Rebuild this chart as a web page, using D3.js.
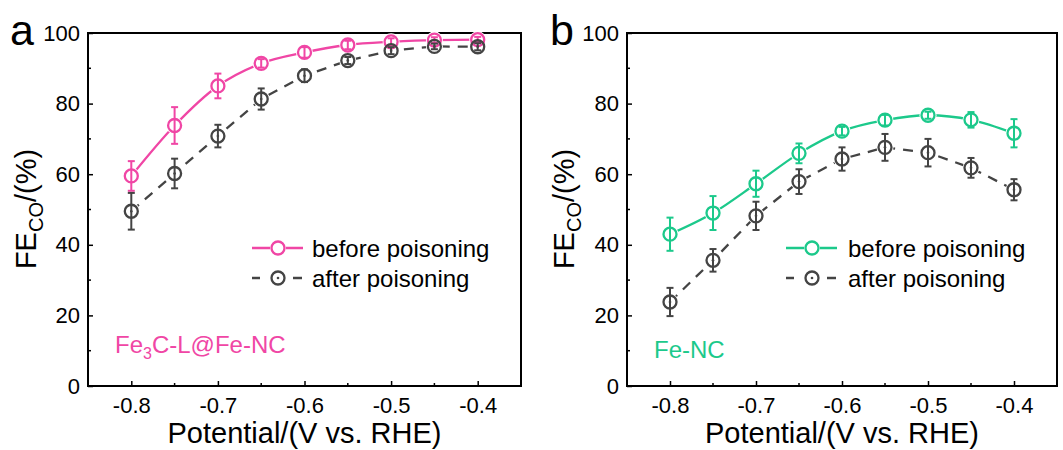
<!DOCTYPE html>
<html>
<head>
<meta charset="utf-8">
<script src="https://d3js.org/d3.v7.min.js"></script>
<style>
  body { margin: 0; background: #fff; }
  svg text { font-family: "Liberation Sans", Arial, sans-serif; }
</style>
</head>
<body>
<script>
const width = 1063
const height = 450

const potential = [-0.8, -0.75, -0.7, -0.65, -0.6, -0.55, -0.5, -0.45, -0.4]
const xTicks = [-0.8, -0.7, -0.6, -0.5, -0.4]
const yTicks = [0, 20, 40, 60, 80, 100]

// panel a: Fe3C-L@Fe-NC
const aBefore = [59.5, 73.8, 85.0, 91.4, 94.5, 96.6, 97.5, 98.0, 98.1]
const aBeforeErr = [4.2, 5.2, 3.5, 1.2, 1.5, 1.2, 1.0, 0.8, 0.8]
const aAfter = [49.5, 60.2, 70.8, 81.3, 87.9, 92.2, 95.0, 96.2, 96.1]
const aAfterErr = [5.2, 4.2, 3.2, 3.0, 1.8, 1.0, 1.0, 0.8, 1.0]

// panel b: Fe-NC
const bBefore = [43.0, 49.0, 57.3, 65.9, 72.2, 75.3, 76.7, 75.4, 71.6]
const bBeforeErr = [4.7, 4.8, 3.7, 2.8, 1.2, 1.5, 1.0, 2.2, 4.0]
const bAfter = [23.8, 35.6, 48.2, 57.9, 64.3, 67.6, 66.1, 61.8, 55.6]
const bAfterErr = [4.0, 3.2, 4.0, 3.5, 3.3, 3.8, 3.9, 2.8, 3.0]

const seriesLabels = ["before poisoning", "after poisoning"]
const grey = "#444444"

const svg = d3.select("body").append("svg")
    .attr("width", width).attr("height", height)

function drawPanel(opt) {
    const x = d3.scaleLinear().domain([-0.85, -0.35]).range([opt.left, opt.right])
    const y = d3.scaleLinear().domain([0, 100]).range([386, 33])
    const g = svg.append("g")

    // minor ticks
    const xMinor = d3.range(-0.85, -0.349, 0.05).filter(v => Math.abs(Math.round(v * 10) - v * 10) > 0.01)
    g.selectAll(".xminor").data(xMinor).enter().append("line")
        .attr("x1", d => x(d)).attr("x2", d => x(d))
        .attr("y1", 386).attr("y2", 383)
        .attr("stroke", "black").attr("stroke-width", 1.5)
    g.selectAll(".yminor").data([10, 30, 50, 70, 90]).enter().append("line")
        .attr("x1", opt.left).attr("x2", opt.left + 3)
        .attr("y1", d => y(d)).attr("y2", d => y(d))
        .attr("stroke", "black").attr("stroke-width", 1.5)

    const xAxis = g.append("g").attr("transform", "translate(0,386)")
        .call(d3.axisBottom(x).tickValues(xTicks).tickSizeInner(-5).tickSizeOuter(0)
            .tickFormat(d => d3.format(".1f")(d).replace("−", "-")))
    xAxis.selectAll("text").attr("y", 11).attr("dy", "0.71em")
        .style("font-size", "22px").attr("fill", "black")
    const yAxis = g.append("g").attr("transform", `translate(${opt.left},0)`)
        .call(d3.axisLeft(y).tickValues(yTicks).tickSizeInner(-5).tickSizeOuter(0))
    yAxis.selectAll("text").attr("x", -8)
        .style("font-size", "22px").attr("fill", "black")
    g.selectAll(".domain").remove()
    g.selectAll(".tick line").attr("stroke-width", 1.5)

    // frame
    g.append("rect").attr("x", opt.left).attr("y", 33)
        .attr("width", opt.right - opt.left).attr("height", 353)
        .attr("fill", "none").attr("stroke", "black").attr("stroke-width", 2)

    const series = [
        { vals: opt.before, errs: opt.beforeErr, color: opt.color, dash: null, dot: false, curve: d3.curveMonotoneX },
        { vals: opt.after, errs: opt.afterErr, color: grey, dash: "10,8", dot: true, curve: d3.curveLinear }
    ]
    const r = 6.5

    series.forEach(s => {
        const line = d3.line().x((d, i) => x(potential[i])).y(d => y(d)).curve(s.curve)
        g.append("path").datum(s.vals).attr("d", line)
            .attr("fill", "none").attr("stroke", s.color).attr("stroke-width", 2.3)
            .attr("stroke-dasharray", s.dash)
    })
    series.forEach(s => {
        // gap around symbols
        g.append("g").selectAll("circle").data(s.vals).enter().append("circle")
            .attr("cx", (d, i) => x(potential[i])).attr("cy", d => y(d))
            .attr("r", r + 2).attr("fill", "white")
    })
    series.forEach(s => {
        const eb = g.append("g").attr("stroke", s.color).attr("stroke-width", 2)
        s.vals.forEach((v, i) => {
            const cx = x(potential[i]), e = s.errs[i]
            eb.append("line").attr("x1", cx).attr("x2", cx).attr("y1", y(v - e)).attr("y2", y(v + e))
            eb.append("line").attr("x1", cx - 3.5).attr("x2", cx + 3.5).attr("y1", y(v - e)).attr("y2", y(v - e))
            eb.append("line").attr("x1", cx - 3.5).attr("x2", cx + 3.5).attr("y1", y(v + e)).attr("y2", y(v + e))
        })
        g.append("g").selectAll("circle").data(s.vals).enter().append("circle")
            .attr("cx", (d, i) => x(potential[i])).attr("cy", d => y(d))
            .attr("r", r).attr("fill", "none").attr("stroke", s.color).attr("stroke-width", 2.3)
        if (s.dot) {
            g.append("g").selectAll("circle").data(s.vals).enter().append("circle")
                .attr("cx", (d, i) => x(potential[i])).attr("cy", d => y(d))
                .attr("r", 1.3).attr("fill", s.color)
        }
    })

    // legend
    const lg = g.append("g")
    const lx = opt.legendX, lt = opt.legendTextX
    lg.append("line").attr("x1", lx).attr("x2", lx + 51).attr("y1", 248).attr("y2", 248)
        .attr("stroke", opt.color).attr("stroke-width", 2.5)
    lg.append("circle").attr("cx", lx + 26).attr("cy", 248).attr("r", r + 1.5)
        .attr("fill", "white").attr("stroke", "none")
    lg.append("circle").attr("cx", lx + 26).attr("cy", 248).attr("r", r)
        .attr("fill", "white").attr("stroke", opt.color).attr("stroke-width", 2.3)
    lg.append("line").attr("x1", lx).attr("x2", lx + 8).attr("y1", 278).attr("y2", 278)
        .attr("stroke", grey).attr("stroke-width", 2.5)
    lg.append("line").attr("x1", lx + 41).attr("x2", lx + 50).attr("y1", 278).attr("y2", 278)
        .attr("stroke", grey).attr("stroke-width", 2.5)
    lg.append("circle").attr("cx", lx + 26).attr("cy", 278).attr("r", r)
        .attr("fill", "white").attr("stroke", grey).attr("stroke-width", 2.3)
    lg.append("circle").attr("cx", lx + 26).attr("cy", 278).attr("r", 1.3).attr("fill", grey)
    lg.selectAll("text").data(seriesLabels).enter().append("text")
        .attr("x", lt).attr("y", (d, i) => 257 + i * 30)
        .style("font-size", "24px").attr("fill", "black").text(d => d)

    // sample name
    const nm = g.append("text").attr("x", opt.nameX).attr("y", opt.nameY)
        .style("font-size", "24px").attr("fill", opt.color)
    opt.name.forEach(p => {
        const t = nm.append("tspan").text(p.t)
        if (p.sub) t.style("font-size", "16px").attr("dy", 6)
        else if (p.after) t.attr("dy", -6)
    })

    // axis titles
    g.append("text").attr("x", (opt.left + opt.right) / 2).attr("y", 443)
        .attr("text-anchor", "middle").style("font-size", "29px").attr("fill", "black")
        .text("Potential/(V vs. RHE)")
    const yt = g.append("text")
        .attr("transform", `translate(${opt.yTitleX},209) rotate(-90)`)
        .attr("text-anchor", "middle").style("font-size", "29px").attr("fill", "black")
    yt.append("tspan").text("FE")
    yt.append("tspan").text("CO").style("font-size", "20px").attr("dy", 7)
    yt.append("tspan").text("/(%)").attr("dy", -7)

    // panel letter
    g.append("text").attr("x", opt.letterX).attr("y", 45)
        .style("font-size", "43px").attr("fill", "black").text(opt.letter)
}

drawPanel({
    left: 88, right: 521, color: "#F046A5",
    before: aBefore, beforeErr: aBeforeErr, after: aAfter, afterErr: aAfterErr,
    legendX: 252, legendTextX: 312,
    name: [{ t: "Fe" }, { t: "3", sub: true }, { t: "C-L@Fe-NC", after: true }],
    nameX: 115, nameY: 353, yTitleX: 36, letter: "a", letterX: 10
})
drawPanel({
    left: 627, right: 1057, color: "#1CC98B",
    before: bBefore, beforeErr: bBeforeErr, after: bAfter, afterErr: bAfterErr,
    legendX: 786, legendTextX: 848,
    name: [{ t: "Fe-NC" }],
    nameX: 654, nameY: 358, yTitleX: 574, letter: "b", letterX: 550
})
</script>
</body>
</html>
